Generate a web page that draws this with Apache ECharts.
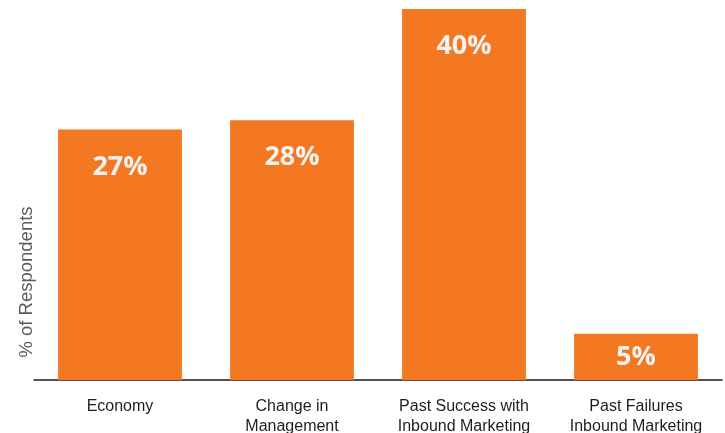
<!DOCTYPE html>
<html>
<head>
<meta charset="utf-8">
<script src="https://cdn.jsdelivr.net/npm/echarts@6/dist/echarts.min.js"></script>
<style>
  html, body { margin: 0; padding: 0; background: #ffffff; }
  #chart { width: 725px; height: 433px; }
</style>
</head>
<body>
<div id="chart"></div>
<script>
// Reasons cited by respondents
const categories = [
  'Economy',
  'Change in\nManagement',
  'Past Success with\nInbound Marketing',
  'Past Failures\nInbound Marketing'
];
const shares = [27, 28, 40, 5];
const axisTitle = '% of Respondents';

const chart = echarts.init(document.getElementById('chart'), null, { renderer: 'canvas' });

// short bars get their value label pulled closer to the top edge
const barItems = shares.map(v => (v < 10 ? { value: v, label: { distance: 10 } } : v));

chart.setOption({
  animation: false,
  backgroundColor: '#ffffff',
  grid: {
    left: 34, right: 3, top: 9, bottom: 53,
    containLabel: false,
    outerBoundsMode: 'none'
  },
  xAxis: {
    type: 'category',
    data: categories,
    axisLine: { show: true, lineStyle: { color: '#1a1a1a', width: 1.5 } },
    axisTick: { show: false },
    axisLabel: {
      color: '#1e1e1e',
      fontFamily: 'Liberation Sans, Arial, sans-serif',
      fontSize: 16,
      lineHeight: 20,
      margin: 17,
      interval: 0
    }
  },
  yAxis: {
    type: 'value',
    min: 0,
    max: 40,
    axisLine: { show: false },
    axisTick: { show: false },
    axisLabel: { show: false },
    splitLine: { show: false }
  },
  graphic: [
    {
      type: 'text',
      x: 27,
      y: 282,
      rotation: Math.PI / 2,
      style: {
        text: axisTitle,
        fill: '#5a5a5a',
        font: '18.5px "Liberation Sans", Arial, sans-serif',
        textAlign: 'center',
        textVerticalAlign: 'middle'
      }
    }
  ],
  series: [
    {
      type: 'bar',
      data: barItems,
      barCategoryGap: '28%',
      itemStyle: { color: '#F47721' },
      label: {
        show: true,
        position: 'insideTop',
        distance: 24,
        formatter: '{c}%',
        color: '#F2F2F2',
        fontFamily: 'Open Sans, Lato, sans-serif',
        fontWeight: 'bold',
        fontSize: 27
      }
    }
  ]
});
</script>
</body>
</html>
